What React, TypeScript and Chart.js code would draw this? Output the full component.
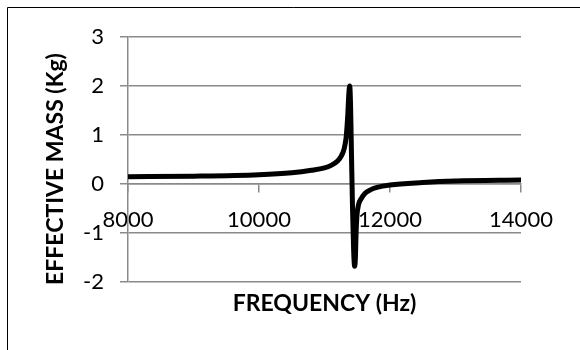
import { useEffect, useRef } from "react";
import { Chart, registerables } from "chart.js";
Chart.register(...registerables);

const frequencies = [8000, 9000, 10000, 10500, 10800, 11000, 11100, 11200, 11260, 11300, 11330, 11355, 11372, 11385, 11398, 11412, 11428, 11445, 11460, 11472, 11482, 11495, 11520, 11560, 11620, 11700, 11800, 12000, 12500, 13000, 14000];
const effectiveMass = [0.15, 0.16, 0.19, 0.23, 0.28, 0.33, 0.38, 0.47, 0.58, 0.72, 0.95, 1.4, 1.85, 2.0, 1.6, 0.6, -0.5, -1.35, -1.68, -1.5, -1.0, -0.65, -0.42, -0.3, -0.19, -0.12, -0.07, -0.02, 0.03, 0.06, 0.08];
const xTitle = "FREQUENCY (Hz)";
const yTitle = "EFFECTIVE MASS (Kg)";
const xMin = 8000, xMax = 14000, xStep = 2000;
const yMin = -2, yMax = 3, yStep = 1;

const FONT = "Lato, 'Open Sans', sans-serif";

const decor = {
  id: "decor",
  beforeDraw(chart: any) {
    const ctx = chart.ctx;
    ctx.save();
    ctx.strokeStyle = "#000";
    ctx.lineWidth = 1;
    ctx.beginPath();
    ctx.moveTo(7.5, 350);
    ctx.lineTo(7.5, 7.5);
    ctx.lineTo(580, 7.5);
    ctx.stroke();
    ctx.restore();
  },
  afterDraw(chart: any) {
    const ctx = chart.ctx;
    const a = chart.chartArea;
    ctx.save();
    ctx.fillStyle = "#000";
    ctx.font = `bold 23px ${FONT}`;
    ctx.textAlign = "center";
    ctx.textBaseline = "middle";
    ctx.fillText(xTitle, (a.left + a.right) / 2, 304);
    ctx.translate(56, 169);
    ctx.rotate(-Math.PI / 2);
    ctx.fillText(yTitle, 0, 0);
    ctx.restore();
  },
};

export default function App() {
  const ref = useRef<HTMLCanvasElement>(null);
  useEffect(() => {
    const chart = new Chart(ref.current!, {
      type: "line",
      data: {
        datasets: [
          {
            data: frequencies.map((f, i) => ({ x: f, y: effectiveMass[i] })),
            borderColor: "#000",
            borderWidth: 5,
            pointRadius: 0,
            cubicInterpolationMode: "monotone",
            borderJoinStyle: "round",
            borderCapStyle: "round",
            fill: false,
          },
        ],
      },
      options: {
        responsive: false,
        animation: false,
        events: [],
        layout: { padding: { top: 37, right: 59, bottom: 68, left: 0 } },
        plugins: { legend: { display: false }, tooltip: { enabled: false }, title: { display: false } },
        scales: {
          x: {
            type: "linear",
            position: { y: 0 } as any,
            min: xMin,
            max: xMax,
            ticks: {
              stepSize: xStep,
              color: "#000",
              font: { family: FONT, size: 22 },
              padding: 15,
              maxRotation: 0,
              callback: (v: any) => String(v),
            },
            grid: { drawOnChartArea: false, drawTicks: true, tickLength: 8, color: "#8a8a8a", lineWidth: 1.5 },
            border: { display: true, color: "#8a8a8a", width: 1.5 },
          },
          y: {
            type: "linear",
            min: yMin,
            max: yMax,
            afterFit(scale: any) {
              scale.width = 128;
            },
            ticks: { stepSize: yStep, color: "#000", font: { family: FONT, size: 22 }, padding: 16, callback: (v: any) => String(v) },
            grid: { color: "#8a8a8a", lineWidth: 1.5, tickLength: 8 },
            border: { display: true, color: "#8a8a8a", width: 1.5 },
          },
        },
      },
      plugins: [decor],
    });
    return () => chart.destroy();
  }, []);
  return (
    <div style={{ position: "absolute", left: 0, top: 0, width: 580, height: 350 }}>
      <canvas ref={ref} width={580} height={350} />
    </div>
  );
}
